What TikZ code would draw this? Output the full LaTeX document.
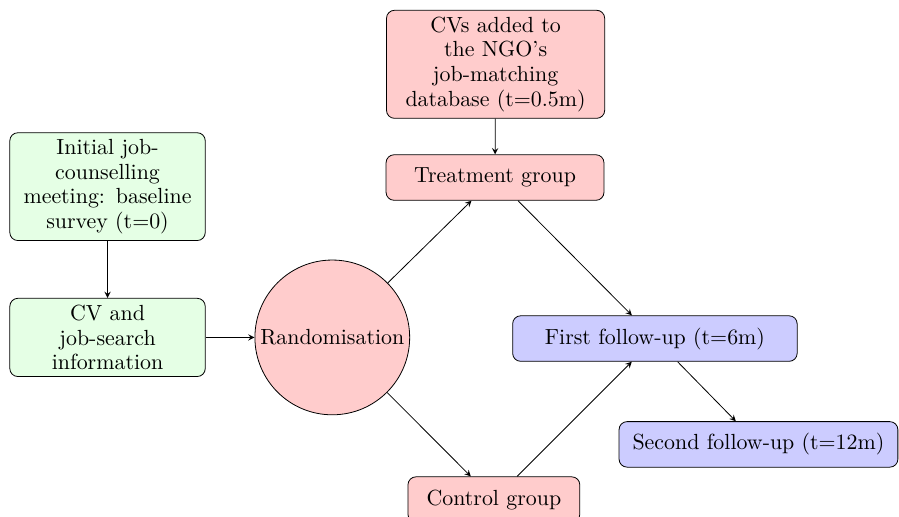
\documentclass[tikz,border=0pt]{standalone}
\usepackage{xcolor}
\usepackage{amsmath}
\usepackage{tikz}
\usetikzlibrary{shapes, calc, positioning, arrows}

\begin{document}
\begin{tikzpicture}[>=stealth, every node/.style={font=\fontsize{10.95}{12.3}\selectfont},
		greenbox/.style={draw, rounded corners, fill=green!10, align=center, text width=3.2cm},
		redbox/.style={draw, rounded corners, fill=red!20, align=center, minimum height=0.8cm},
		bluebox/.style={draw, rounded corners, fill=blue!20, align=center, minimum height=0.8cm},
		randcircle/.style={draw, circle, fill=red!20, inner sep=0pt, minimum size=2.72cm}]
		\useasboundingbox (0,0) rectangle (15.8,-9.086);
		
		\node[greenbox] (initial) at (1.89,-3.28) {Initial job-\\counselling\\meeting: baseline\\survey (t=0)};
		\node[greenbox] (cvinfo) at (1.89,-5.93) {CV and\\job-search\\information};
		\node[randcircle] (rand) at (5.84,-5.93) {Randomisation};
		
		\node[redbox, text width=3.6cm] (database) at (8.71,-1.13) {CVs added to\\the NGO's\\job-matching\\database (t=0.5m)};
		\node[redbox, minimum width=3.83cm] (treat) at (8.70,-3.12) {Treatment group};
		\node[redbox, minimum width=3.02cm] (control) at (8.68,-8.78) {Control group};
		
		\node[bluebox, minimum width=5cm] (first) at (11.51,-5.95) {First follow-up (t=6m)};
		\node[bluebox, minimum width=4.9cm] (second) at (13.33,-7.81) {Second follow-up (t=12m)};
		
		\draw[->] (initial) -- (cvinfo);
		\draw[->] (cvinfo) -- (rand);
		\draw[->] (rand) -- (treat);
		\draw[->] (rand) -- (control);
		\draw[->] (database) -- (treat);
		\draw[->] (treat) -- (first);
		\draw[->] (control) -- (first);
		\draw[->] (first) -- (second);
\end{tikzpicture}
\end{document}
